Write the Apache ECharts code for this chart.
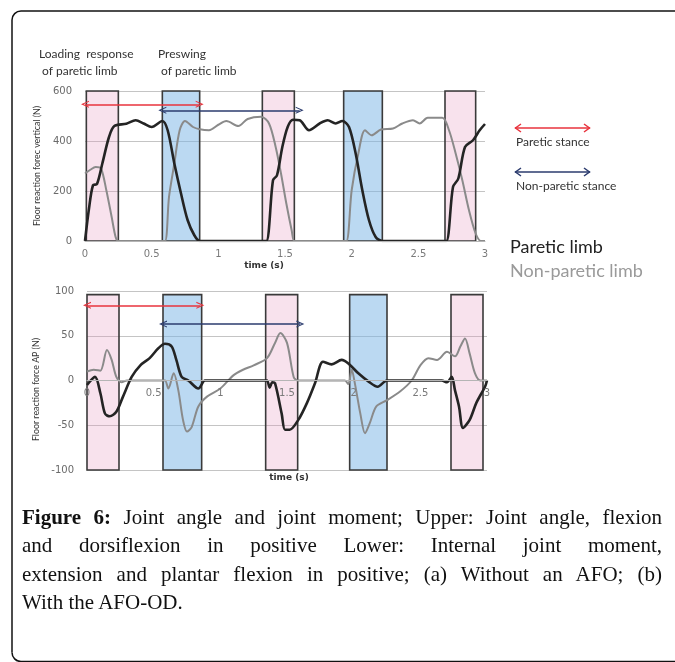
<!DOCTYPE html>
<html>
<head>
<meta charset="utf-8">
<script src="https://cdn.jsdelivr.net/npm/echarts@6/dist/echarts.min.js"></script>
<style>
html,body{margin:0;padding:0;background:#fff;overflow:hidden;}
#wrap{position:relative;width:675px;height:662px;}
#chart{position:absolute;left:0;top:0;width:675px;height:662px;}
#cap{position:absolute;left:22px;top:503px;width:640px;font-family:'Liberation Serif',serif;font-size:21px;line-height:28.3px;color:#111;}
#cap .j{text-align:justify;text-align-last:justify;white-space:nowrap;}
</style>
</head>
<body>
<div id="wrap">
<div id="chart"></div>
<div id="cap">
<div class="j"><b>Figure 6:</b> Joint angle and joint moment; Upper: Joint angle, flexion</div>
<div class="j">and dorsiflexion in positive Lower: Internal joint moment,</div>
<div class="j">extension and plantar flexion in positive; (a) Without an AFO; (b)</div>
<div>With the AFO-OD.</div>
</div>
</div>
<script>
// ---- data (time s, value N) ----
var xTicks = [0, 0.5, 1, 1.5, 2, 2.5, 3];
var topYTicks = [0, 200, 400, 600];
var botYTicks = [-100, -50, 0, 50, 100];

var topParetic = [[0.0,0],[0.03,130],[0.06,223],[0.09,228],[0.13,310],[0.18,416],[0.22,460],[0.31,469],[0.38,483],[0.44,470],[0.50,456],[0.58,480],[0.62,443],[0.67,310],[0.72,190],[0.77,83],[0.82,23],[0.86,0],[0.9,0],[1.32,0],[1.36,0],[1.41,243],[1.44,263],[1.48,376],[1.52,456],[1.56,485],[1.61,483],[1.68,443],[1.76,470],[1.82,483],[1.88,470],[1.93,480],[1.98,456],[2.03,350],[2.08,203],[2.13,83],[2.18,16],[2.23,0],[2.27,0],[2.67,0],[2.71,0],[2.76,216],[2.80,250],[2.85,376],[2.91,403],[2.96,443],[3.0,468]];
var topNonParetic = [[0.0,270],[0.04,285],[0.08,296],[0.12,290],[0.16,203],[0.20,96],[0.23,15],[0.25,0],[0.29,0],[0.56,0],[0.60,0],[0.63,176],[0.67,310],[0.71,443],[0.75,480],[0.81,456],[0.86,447],[0.93,443],[1.00,465],[1.06,480],[1.15,460],[1.22,488],[1.32,497],[1.38,470],[1.43,376],[1.47,270],[1.51,150],[1.55,43],[1.57,0],[1.61,0],[1.92,0],[1.96,0],[2.00,203],[2.05,350],[2.10,443],[2.15,423],[2.22,446],[2.31,450],[2.38,470],[2.46,483],[2.51,470],[2.57,493],[2.68,493],[2.73,443],[2.78,350],[2.83,243],[2.88,123],[2.93,30],[2.97,0],[3.0,0]];
var botParetic = [[0,-5],[0.06,4],[0.10,-14],[0.135,-37],[0.17,-40],[0.22,-35],[0.27,-18],[0.335,4],[0.40,17],[0.47,25],[0.535,36],[0.585,41],[0.635,38],[0.67,23],[0.71,4],[0.76,0],[0.835,-9],[0.885,0],[0.93,0],[1.32,0],[1.35,0],[1.37,-8],[1.39,-2],[1.41,-3],[1.46,-37],[1.485,-55],[1.52,-55],[1.585,-44],[1.65,-25],[1.71,-3],[1.77,21],[1.835,18],[1.91,23],[1.96,19],[2.035,8],[2.11,-1],[2.18,-7],[2.25,0],[2.3,0],[2.66,0],[2.70,-2],[2.735,4],[2.76,-11],[2.79,-29],[2.82,-53],[2.87,-44],[2.92,-25],[2.985,-7],[3.0,0]];
var botNonParetic = [[0,10],[0.05,12],[0.10,11],[0.15,34],[0.185,23],[0.22,4],[0.26,-2],[0.30,0],[0.55,0],[0.585,0],[0.61,-9],[0.65,8],[0.685,-11],[0.72,-44],[0.75,-57],[0.785,-52],[0.835,-29],[0.90,-18],[1.0,-9],[1.10,6],[1.17,12],[1.25,17],[1.35,25],[1.41,42],[1.45,53],[1.50,42],[1.55,4],[1.58,0],[1.62,0],[1.90,0],[1.935,0],[1.96,-4],[1.985,12],[2.01,-4],[2.05,-37],[2.085,-59],[2.12,-48],[2.17,-29],[2.25,-22],[2.35,-12],[2.435,0],[2.50,17],[2.56,25],[2.625,23],[2.70,32],[2.76,27],[2.80,38],[2.835,47],[2.87,30],[2.91,8],[2.95,0],[3.0,0]];

// stance phase boxes [start, end] (s)
var topPinkSpans = [[0.01,0.25],[1.33,1.57],[2.70,2.93]];
var topBlueSpans = [[0.58,0.86],[1.94,2.23]];
var botPinkSpans = [[0.0,0.24],[1.34,1.58],[2.73,2.97]];
var botBlueSpans = [[0.57,0.86],[1.97,2.25]];
var topBoxRange = [0, 600];
var botBoxRange = [-100, 96];

// stance arrows [start, end, level]
var topRedArrow = [0.0, 0.86, 547];
var topNavyArrow = [0.58, 1.61, 523];
var botRedArrow = [0.0, 0.85, 84];
var botNavyArrow = [0.57, 1.60, 63];

// ---- styling ----
var PINK = 'rgba(230,150,190,0.28)', BLUE = 'rgba(120,180,230,0.5)', BOX = '#3a3a3a';
var RED = '#e8333d', NAVY = '#2b3b6e';
var BLACK = '#242424', GRAY = '#8a8a8a';
var SANS = 'Lato';
var chevron = 'path://M0,10 L5,0 L10,10 L8.4,10 L5,3.2 L1.6,10 Z';

function boxes(pink, blue, range) {
  var out = [];
  pink.forEach(function (s) {
    out.push([{xAxis: s[0], yAxis: range[0], itemStyle: {color: PINK}}, {xAxis: s[1], yAxis: range[1]}]);
  });
  blue.forEach(function (s) {
    out.push([{xAxis: s[0], yAxis: range[0], itemStyle: {color: BLUE}}, {xAxis: s[1], yAxis: range[1]}]);
  });
  return out;
}
function arrows(red, navy) {
  return [
    [{coord: [red[0], red[2]], lineStyle: {color: RED}}, {coord: [red[1], red[2]]}],
    [{coord: [navy[0], navy[2]], lineStyle: {color: NAVY}}, {coord: [navy[1], navy[2]]}]
  ];
}
function xAx(grid, offset) {
  return {
    gridIndex: grid, type: 'value', min: 0, max: 3, interval: 0.5,
    position: 'bottom', offset: offset, z: 5,
    axisLine: {onZero: false, lineStyle: {color: '#b5b5b5'}},
    axisTick: {show: false},
    axisLabel: {color: '#7a7a7a', fontSize: 10, fontFamily: 'DejaVu Sans', margin: 8,
      formatter: function (v) { return xTicks.indexOf(v) >= 0 ? String(v) : ''; }},
    splitLine: {show: false}
  };
}
function yAx(grid, ticks, name, pad) {
  return {
    gridIndex: grid, type: 'value', min: ticks[0], max: ticks[ticks.length - 1],
    interval: ticks[1] - ticks[0],
    axisLine: {show: false}, axisTick: {show: false},
    axisLabel: {color: '#6a6a6a', fontSize: 10, fontFamily: 'DejaVu Sans', margin: 13},
    splitLine: {lineStyle: {color: '#c4c4c4', width: 1}},
    name: name, nameLocation: 'middle', nameGap: 42,
    nameTextStyle: {fontSize: 8.8, color: '#333', fontFamily: SANS, padding: pad}
  };
}
function lineSeries(grid, data, color, width, z) {
  return {
    type: 'line', xAxisIndex: grid, yAxisIndex: grid, data: data,
    showSymbol: false, smooth: 0.3, z: z,
    lineStyle: {color: color, width: width}
  };
}

var sTopP = lineSeries(0, topParetic, BLACK, 2.6, 4);
sTopP.markArea = {silent: true, itemStyle: {borderColor: BOX, borderWidth: 1.6}, data: boxes(topPinkSpans, topBlueSpans, topBoxRange)};
sTopP.markLine = {silent: true, symbol: [chevron, chevron], symbolSize: [7, 8], label: {show: false},
  lineStyle: {type: 'solid', width: 1.5}, data: arrows(topRedArrow, topNavyArrow)};
var sBotP = lineSeries(1, botParetic, BLACK, 2.6, 4);
sBotP.markArea = {silent: true, itemStyle: {borderColor: BOX, borderWidth: 1.6}, data: boxes(botPinkSpans, botBlueSpans, botBoxRange)};
sBotP.markLine = {silent: true, symbol: [chevron, chevron], symbolSize: [7, 8], label: {show: false},
  lineStyle: {type: 'solid', width: 1.5}, data: arrows(botRedArrow, botNavyArrow)};

function txt(x, y, s, size, color, extra) {
  var st = {x: x, y: y, text: s, fontSize: size, fill: color, fontFamily: SANS, textVerticalAlign: 'middle'};
  if (extra) for (var k in extra) st[k] = extra[k];
  return {type: 'text', style: st, z: 10};
}
function legArrow(y, color) {
  return [
    {type: 'polyline', shape: {points: [[515, y], [590, y]]}, style: {stroke: color, lineWidth: 1.5}, z: 10},
    {type: 'polyline', shape: {points: [[521, y - 4], [515.5, y], [521, y + 4]]}, style: {stroke: color, lineWidth: 1.5, fill: null}, z: 10},
    {type: 'polyline', shape: {points: [[584, y - 4], [589.5, y], [584, y + 4]]}, style: {stroke: color, lineWidth: 1.5, fill: null}, z: 10}
  ];
}
var frameStyle = {stroke: '#111', lineWidth: 1.5, fill: null};
var frame = [
  {type: 'polyline', shape: {points: [[700, 11], [21, 11]]}, style: frameStyle, silent: true},
  {type: 'arc', shape: {cx: 21, cy: 20, r: 9, startAngle: Math.PI, endAngle: Math.PI * 1.5, clockwise: true}, style: frameStyle, silent: true},
  {type: 'polyline', shape: {points: [[12, 20], [12, 652.5]]}, style: frameStyle, silent: true},
  {type: 'arc', shape: {cx: 21, cy: 652.5, r: 9, startAngle: Math.PI * 0.5, endAngle: Math.PI, clockwise: true}, style: frameStyle, silent: true},
  {type: 'polyline', shape: {points: [[21, 661.5], [700, 661.5]]}, style: frameStyle, silent: true}
];

var chart = echarts.init(document.getElementById('chart'), null, {renderer: 'canvas'});
chart.setOption({
  animation: false,
  backgroundColor: '#fff',
  grid: [
    {left: 85, top: 91, width: 400, height: 150},
    {left: 87, top: 291, width: 400, height: 179}
  ],
  xAxis: [xAx(0, 0), xAx(1, -89.5)],
  yAxis: [
    yAx(0, topYTicks, 'Floor reaction forec vertical (N)', [0, 0, 0, 0]),
    yAx(1, botYTicks, 'Floor reaction force AP (N)', [0, 18, 0, 0])
  ],
  series: [
    lineSeries(0, topNonParetic, GRAY, 2, 3),
    sTopP,
    lineSeries(1, botNonParetic, GRAY, 2, 3),
    sBotP
  ],
  graphic: frame.concat([
    txt(39, 54, 'Loading  response', 12, '#333'),
    txt(42, 71, 'of paretic limb', 12, '#333'),
    txt(158, 54, 'Preswing', 12, '#333'),
    txt(161, 71, 'of paretic limb', 12, '#333'),
    txt(264, 266, 'time (s)', 9, '#333', {textAlign: 'center', fontWeight: 'bold', fontFamily: 'DejaVu Sans'}),
    txt(289, 478, 'time (s)', 9, '#333', {textAlign: 'center', fontWeight: 'bold', fontFamily: 'DejaVu Sans'}),
    txt(516, 142, 'Paretic stance', 12, '#333'),
    txt(516, 186, 'Non-paretic stance', 12, '#333'),
    txt(510, 247, 'Paretic limb', 18, '#222'),
    txt(510, 271, 'Non-paretic limb', 18, '#9a9a9a')
  ]).concat(legArrow(128, RED), legArrow(172, NAVY))
});
</script>
</body>
</html>
